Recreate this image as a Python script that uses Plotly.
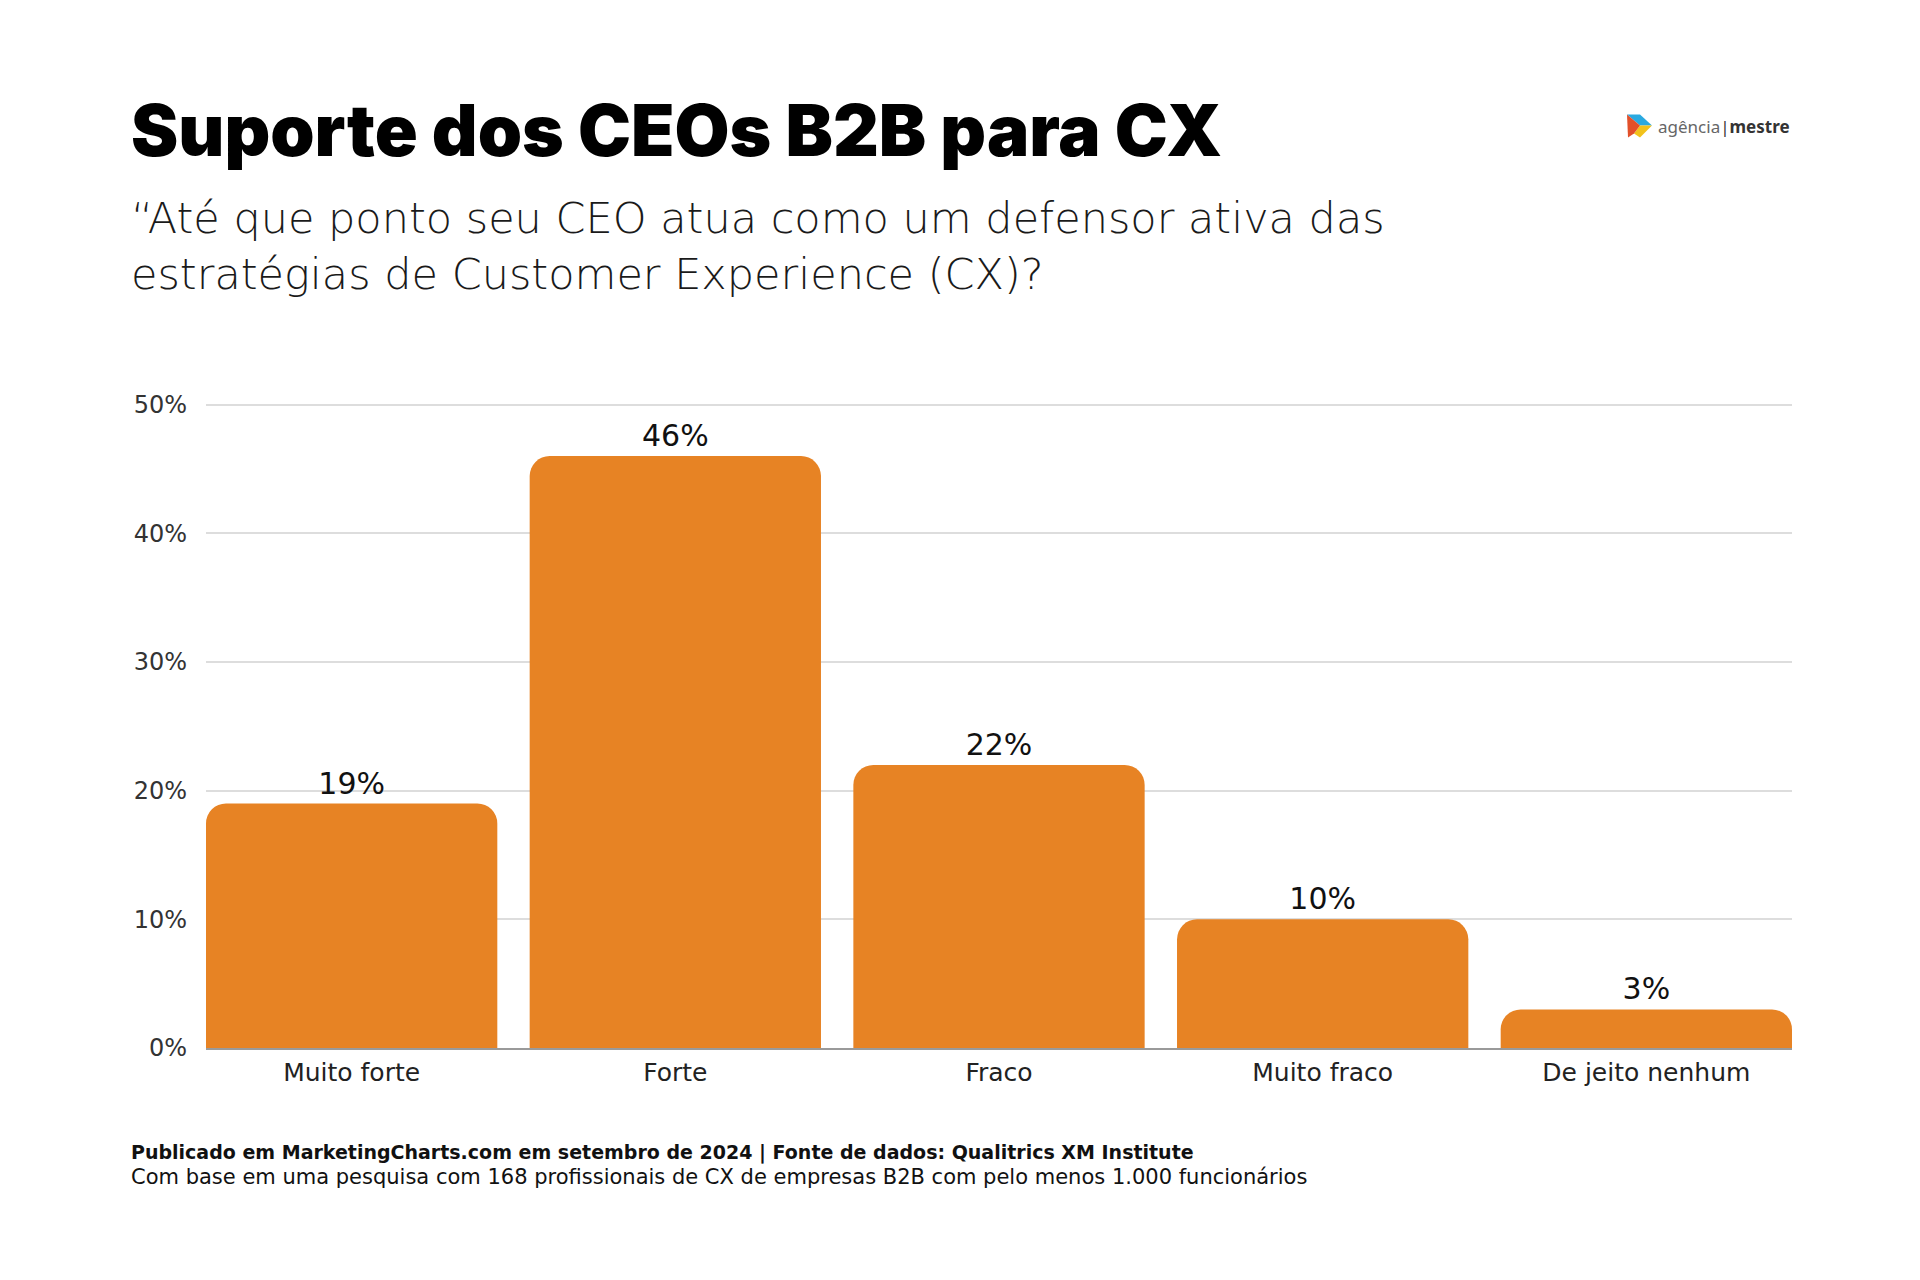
import plotly.graph_objects as go

categories = ["Muito forte", "Forte", "Fraco", "Muito fraco", "De jeito nenhum"]
values = [19, 46, 22, 10, 3]
value_labels = ["19%", "46%", "22%", "10%", "3%"]
y_ticks = [0, 10, 20, 30, 40, 50]
y_tick_labels = ["0%", "10%", "20%", "30%", "40%", "50%"]

title = "Suporte dos CEOs B2B para CX"
subtitle_lines = ["“Até que ponto seu CEO atua como um defensor ativa das",
                  "estratégias de Customer Experience (CX)?"]
footer1 = "Publicado em MarketingCharts.com em setembro de 2024 | Fonte de dados: Qualitrics XM Institute"
footer2 = "Com base em uma pesquisa com 168 profissionais de CX de empresas B2B com pelo menos 1.000 funcionários"

W, H = 1920, 1280
YMAX = 50.2
L, R, B = 206, 128, 232
T = 405 - (YMAX - 50) * 12.85
PW, PH = W - L - R, H - T - B

def px(x):
    return (x - L) / PW

def py(y):
    return (H - B - y) / PH

BAR = "#E78324"
FONT = "DejaVu Sans"

fig = go.Figure()
fig.add_trace(go.Bar(
    x=categories, y=values, width=0.9,
    marker=dict(color=BAR, line=dict(width=0)),
    text=value_labels, textposition="outside", cliponaxis=False,
    textfont=dict(family=FONT, size=30, color="#111111"),
))

fig.update_layout(
    width=W, height=H,
    margin=dict(l=L, r=R, t=T, b=B),
    paper_bgcolor="white", plot_bgcolor="white",
    barcornerradius=20,
    showlegend=False,
    xaxis=dict(
        range=[-0.45, 4.45], showgrid=False, zeroline=False,
        showline=True, linecolor="#9a9a9a", linewidth=2,
        ticks="", ticklabelstandoff=1,
        tickfont=dict(family=FONT, size=25, color="#222222"),
    ),
    yaxis=dict(
        range=[0, YMAX], tickvals=y_ticks, ticktext=y_tick_labels,
        showgrid=True, gridcolor="#dddddd", gridwidth=1.5,
        zeroline=False, showline=False, ticks="", ticklabelstandoff=18,
        tickfont=dict(family=FONT, size=24, color="#333333"),
    ),
)

fig.add_annotation(
    text=title, xref="paper", yref="paper", x=px(129), y=py(131),
    xanchor="left", yanchor="middle", showarrow=False,
    font=dict(family="Inter", size=71, color="#000000", weight=900),
)
fig.add_annotation(
    text="<br>".join(subtitle_lines), xref="paper", yref="paper", x=px(129), y=py(247),
    xanchor="left", yanchor="middle", showarrow=False, align="left",
    font=dict(family=FONT, size=43, color="#1a1a1a", weight=200),
)
fig.add_annotation(
    text="<b>" + footer1 + "</b>",
    xref="paper", yref="paper", x=px(129), y=py(1152),
    xanchor="left", yanchor="middle", showarrow=False, align="left",
    font=dict(family=FONT, size=19, color="#111111"),
)
fig.add_annotation(
    text=footer2,
    xref="paper", yref="paper", x=px(129), y=py(1177),
    xanchor="left", yanchor="middle", showarrow=False, align="left",
    font=dict(family=FONT, size=21, color="#111111"),
)

# logo
fig.add_annotation(
    text="<span style='color:#666666'>agência</span><span style='color:#333333'>|<b>mestre</b></span>",
    xref="paper", yref="paper", x=px(1656), y=py(127),
    xanchor="left", yanchor="middle", showarrow=False,
    font=dict(family="Noto Sans", size=17, color="#555555"),
)
def pth(points):
    return "M " + " L ".join(f"{px(a)} {py(b)}" for a, b in points) + " Z"
fig.add_shape(type="path", xref="paper", yref="paper", path=pth([(1627, 115), (1640, 115), (1652, 126), (1640, 126)]), fillcolor="#2AA9E0", line=dict(width=0))
fig.add_shape(type="path", xref="paper", yref="paper", path=pth([(1640, 126), (1652, 126), (1640, 138), (1634, 134)]), fillcolor="#F2C21B", line=dict(width=0))
fig.add_shape(type="path", xref="paper", yref="paper", path=pth([(1627, 115), (1640, 126), (1634, 134), (1628, 138)]), fillcolor="#E2502A", line=dict(width=0))

fig.write_html("out.html")
